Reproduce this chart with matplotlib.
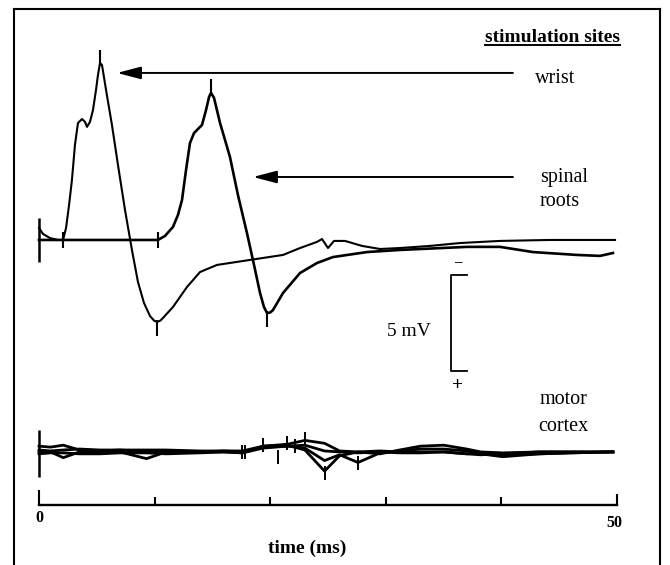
# Evoked responses for three stimulation sites (wrist, spinal roots, motor cortex)
import numpy as np
import matplotlib.pyplot as plt
from matplotlib.lines import Line2D

plt.rcParams['font.family'] = ['Liberation Serif', 'DejaVu Serif']

# wrist trace, time (ms) and voltage (mV)
wrist_t = [0, 0.35, 0.95, 1.64, 2.08, 2.34, 2.60, 2.85, 3.11, 3.37, 3.72, 3.98, 4.15,
           4.41, 4.67, 4.93, 5.10, 5.28, 5.45, 5.80, 6.31, 6.83, 7.44, 8.04, 8.56,
           9.08, 9.60, 9.95, 10.21, 10.50, 10.73, 11.59, 12.80, 13.93, 15.40, 18.25,
           21.11, 22.58, 24.05, 24.48, 25.00, 25.52, 26.47, 27.94, 29.50, 31.23,
           33.82, 36.42, 39.88, 44.20, 49.83]
wrist_v = [0.63, 0.31, 0.10, 0, 0, 0.63, 1.82, 3.13, 4.95, 6.09, 6.30, 6.15, 5.89,
           6.15, 6.77, 7.81, 8.59, 9.22, 9.11, 7.81, 5.99, 3.91, 1.56, -0.52, -2.19,
           -3.28, -3.96, -4.20, -4.27, -4.20, -4.06, -3.49, -2.45, -1.67, -1.30, -1.04,
           -0.78, -0.42, -0.10, 0.05, -0.42, -0.05, -0.05, -0.31, -0.47, -0.42,
           -0.31, -0.16, -0.05, 0, 0]

# spinal roots trace
spinal_t = [0, 10.29, 10.90, 11.59, 12.02, 12.37, 12.72, 13.06, 13.41, 13.67, 14.10,
            14.45, 14.71, 14.88, 15.14, 15.66, 16.09, 16.52, 17.21, 17.99, 18.60,
            19.12, 19.46, 19.72, 20.00, 20.24, 21.11, 22.58, 24.05, 25.43, 28.37,
            31.23, 37.02, 39.88, 42.73, 46.54, 48.53, 49.65]
spinal_v = [0, 0, 0.21, 0.68, 1.30, 2.08, 3.65, 5.05, 5.57, 5.73, 5.99, 6.77, 7.45,
            7.66, 7.40, 6.09, 5.21, 4.32, 2.34, 0.36, -1.30, -2.76, -3.49, -3.80,
            -3.78, -3.65, -2.76, -1.72, -1.20, -0.89, -0.63, -0.52, -0.36, -0.36,
            -0.63, -0.78, -0.83, -0.68]

# latency marks (onset, peak, trough)
wrist_marks_t = [2.08, 5.28, 10.21]
wrist_marks_v = [0, 9.5, -4.6]
spinal_marks_t = [10.29, 14.88, 19.72]
spinal_marks_v = [0, 7.95, -4.1]

# motor cortex traces (several superimposed sweeps)
mc_t = [0, 1, 2.1, 3.5, 5.3, 7, 9.3, 11, 13.9, 16, 17.6, 19.4, 21.5, 23, 24.7, 26,
        27.6, 29.5, 31.2, 33, 35, 37, 38.2, 40.1, 43.3, 46, 49.65]
mc_a = [0.3, 0.25, 0.35, 0.1, 0.05, 0.1, 0, 0.05, 0, 0.05, 0.05, 0.3, 0.4, 0.6, 0.45,
        0.05, 0, -0.1, 0.1, 0.3, 0.35, 0.15, 0, -0.05, 0, 0, 0]
mc_b = [0, 0, -0.3, 0, 0, 0, -0.35, 0, 0, 0, -0.05, 0.3, 0.35, 0.1, -1.0, -0.2, 0,
        0.05, 0, 0, 0, -0.1, -0.15, -0.1, 0, 0, 0]
mc_c = [0.1, 0.05, 0.1, 0.15, 0.1, 0.1, 0.1, 0.1, 0.05, 0.05, 0, 0.25, 0.3, 0.2, -0.45,
        -0.15, -0.55, -0.05, 0.05, 0.15, 0.15, 0.05, -0.1, -0.25, -0.1, -0.05, 0]
mc_d = [-0.1, -0.05, -0.05, -0.1, -0.1, -0.05, -0.05, -0.1, -0.05, 0, -0.05, 0.2, 0.3,
        0.35, 0.05, 0, -0.05, 0, -0.05, -0.05, 0, -0.1, -0.05, -0.15, -0.1, -0.05, 0]
mc_marks_t = [17.56, 17.85, 19.38, 20.68, 21.45, 22.15, 23.01, 24.74, 27.6]
mc_marks_v = [0, 0, 0.35, -0.25, 0.45, 0.3, 0.65, -1.1, -0.6]

time_ticks = [0, 10, 20, 30, 40, 50]
tick_len = [0.78, 0.42, 0.42, 0.42, 0.42, 0.55]

mc_offset = -11.04   # motor cortex baseline
axis_y = -13.8       # time axis

fig = plt.figure(figsize=(6.7, 5.65), dpi=100)
ax = fig.add_axes([14 / 670, 0, 646 / 670, 556 / 565])
ax.set_xlim(-2.163, 53.72)
ax.set_ylim(-16.93, 12.03)
ax.set_xticks([])
ax.set_yticks([])
for s in ['left', 'top', 'right']:
    ax.spines[s].set_linewidth(1.5)
ax.spines['bottom'].set_visible(False)

# upper traces
ax.plot(wrist_t, wrist_v, color='black', lw=1.5, solid_joinstyle='round')
ax.plot(spinal_t, spinal_v, color='black', lw=1.9, solid_joinstyle='round')
ax.plot(wrist_marks_t, wrist_marks_v, '|', color='black', ms=11, mew=1.5)
ax.plot(spinal_marks_t, spinal_marks_v, '|', color='black', ms=11, mew=1.5)
ax.vlines(0, -1.15, 1.15, color='black', lw=1.8)

# motor cortex traces
for tr in [mc_a, mc_b, mc_c, mc_d]:
    ax.plot(mc_t, np.array(tr) + mc_offset, color='black', lw=2.0, solid_joinstyle='round')
ax.plot(mc_marks_t, np.array(mc_marks_v) + mc_offset, '|', color='black', ms=10, mew=1.4)
ax.vlines(0, mc_offset - 1.3, mc_offset + 1.15, color='black', lw=1.8)

# arrows
arrow = dict(arrowstyle='-|>,head_length=1.45,head_width=0.38', color='black', lw=1.4,
             shrinkA=0, shrinkB=0)
ax.annotate('', xy=(6.75, 8.70), xytext=(41.0, 8.70), arrowprops=arrow)
ax.annotate('', xy=(18.51, 3.28), xytext=(41.0, 3.28), arrowprops=arrow)

# labels
t = ax.text(50.26, 10.52, 'stimulation sites', ha='right', va='center', fontsize=14,
            fontweight='bold')
ax.text(42.9, 8.39, 'wrist', ha='left', va='center', fontsize=14.5)
ax.text(43.34, 3.23, 'spinal', ha='left', va='center', fontsize=14.5)
ax.text(43.34, 2.0, 'roots', ha='left', va='center', fontsize=14.5)
ax.text(43.34, -8.33, 'motor', ha='left', va='center', fontsize=14.5)
ax.text(43.2, -9.74, 'cortex', ha='left', va='center', fontsize=14.5)

# scale bar 5 mV
ax.plot([37.02, 35.64, 35.64, 37.02], [-1.82, -1.82, -6.82, -6.82], color='black', lw=1.3)
ax.text(36.25, -1.2, '\u2212', ha='center', va='center', fontsize=12)
ax.text(36.2, -7.6, '+', ha='center', va='center', fontsize=14, fontweight='bold')
ax.text(32.0, -4.79, '5 mV', ha='center', va='center', fontsize=14)

# time axis
ax.plot([0, 50], [axis_y, axis_y], color='black', lw=1.7)
for tt, tl in zip(time_ticks, tick_len):
    ax.vlines(tt, axis_y, axis_y + tl, color='black', lw=1.5)
ax.text(0, -14.5, '0', ha='center', va='center', fontsize=11.5, fontweight='bold')
ax.text(49.8, -14.75, '50', ha='center', va='center', fontsize=11.5, fontweight='bold')
ax.text(23.2, -16.04, 'time (ms)', ha='center', va='center', fontsize=14, fontweight='bold')

# underline for the heading
fig.canvas.draw()
bb = t.get_window_extent()
fx0, fy0 = fig.transFigure.inverted().transform((bb.x0, bb.y0 + 1))
fx1, _ = fig.transFigure.inverted().transform((bb.x1, bb.y0 + 1))
fig.add_artist(Line2D([fx0, fx1], [fy0, fy0], color='black', lw=1.4))

fig.savefig('out.png', dpi=100)
